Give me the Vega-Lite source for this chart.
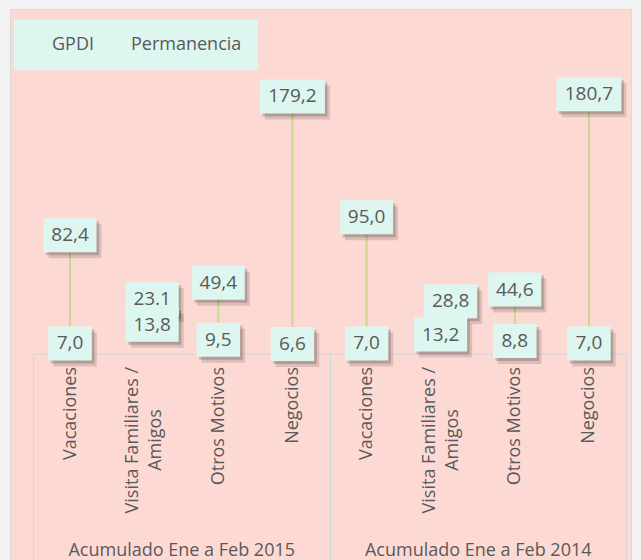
{
  "$schema": "https://vega.github.io/schema/vega-lite/v6.json",
  "width": 621,
  "height": 551,
  "autosize": {"type": "none"},
  "padding": {"left": 10, "top": 9, "right": 10, "bottom": 0},
  "background": "#F2F2F2",
  "config": {
    "view": {"fill": "#FDD9D4", "stroke": "#D9D9D9", "strokeWidth": 1},
    "font": "Open Sans",
    "axis": {"labelFont": "Open Sans", "labelColor": "#595959", "grid": false},
    "legend": {
      "orient": "none",
      "legendX": 4,
      "legendY": 11,
      "direction": "horizontal",
      "fillColor": "#DEF6F0",
      "padding": 16,
      "labelFont": "Open Sans",
      "labelFontSize": 18,
      "labelColor": "#595959",
      "symbolSize": 100,
      "symbolOpacity": 0,
      "symbolType": "square",
      "labelOffset": 4,
      "columnPadding": 14,
      "title": null
    }
  },
  "data": {
    "values": [
      {"grupo": "Acumulado Ene a Feb 2015", "motivo": "Vacaciones", "clave": "Vacaciones 2015", "serie": "GPDI", "valor": 82.4, "etiqueta": "82,4"},
      {"grupo": "Acumulado Ene a Feb 2015", "motivo": "Vacaciones", "clave": "Vacaciones 2015", "serie": "Permanencia", "valor": 7.0, "etiqueta": "7,0"},
      {"grupo": "Acumulado Ene a Feb 2015", "motivo": "Visita Familiares / Amigos", "clave": "Visita Familiares / Amigos 2015", "serie": "GPDI", "valor": 23.1, "etiqueta": "23.1"},
      {"grupo": "Acumulado Ene a Feb 2015", "motivo": "Visita Familiares / Amigos", "clave": "Visita Familiares / Amigos 2015", "serie": "Permanencia", "valor": 13.8, "etiqueta": "13,8"},
      {"grupo": "Acumulado Ene a Feb 2015", "motivo": "Otros Motivos", "clave": "Otros Motivos 2015", "serie": "GPDI", "valor": 49.4, "etiqueta": "49,4"},
      {"grupo": "Acumulado Ene a Feb 2015", "motivo": "Otros Motivos", "clave": "Otros Motivos 2015", "serie": "Permanencia", "valor": 9.5, "etiqueta": "9,5"},
      {"grupo": "Acumulado Ene a Feb 2015", "motivo": "Negocios", "clave": "Negocios 2015", "serie": "GPDI", "valor": 179.2, "etiqueta": "179,2"},
      {"grupo": "Acumulado Ene a Feb 2015", "motivo": "Negocios", "clave": "Negocios 2015", "serie": "Permanencia", "valor": 6.6, "etiqueta": "6,6"},
      {"grupo": "Acumulado Ene a Feb 2014", "motivo": "Vacaciones", "clave": "Vacaciones 2014", "serie": "GPDI", "valor": 95.0, "etiqueta": "95,0"},
      {"grupo": "Acumulado Ene a Feb 2014", "motivo": "Vacaciones", "clave": "Vacaciones 2014", "serie": "Permanencia", "valor": 7.0, "etiqueta": "7,0"},
      {"grupo": "Acumulado Ene a Feb 2014", "motivo": "Visita Familiares / Amigos", "clave": "Visita Familiares / Amigos 2014", "serie": "GPDI", "valor": 28.8, "etiqueta": "28,8"},
      {"grupo": "Acumulado Ene a Feb 2014", "motivo": "Visita Familiares / Amigos", "clave": "Visita Familiares / Amigos 2014", "serie": "Permanencia", "valor": 13.2, "etiqueta": "13,2"},
      {"grupo": "Acumulado Ene a Feb 2014", "motivo": "Otros Motivos", "clave": "Otros Motivos 2014", "serie": "GPDI", "valor": 44.6, "etiqueta": "44,6"},
      {"grupo": "Acumulado Ene a Feb 2014", "motivo": "Otros Motivos", "clave": "Otros Motivos 2014", "serie": "Permanencia", "valor": 8.8, "etiqueta": "8,8"},
      {"grupo": "Acumulado Ene a Feb 2014", "motivo": "Negocios", "clave": "Negocios 2014", "serie": "GPDI", "valor": 180.7, "etiqueta": "180,7"},
      {"grupo": "Acumulado Ene a Feb 2014", "motivo": "Negocios", "clave": "Negocios 2014", "serie": "Permanencia", "valor": 7.0, "etiqueta": "7,0"}
    ]
  },
  "layer": [
    {
      "mark": {"type": "rule", "color": "#C8D88E", "strokeWidth": 2},
      "encoding": {
        "x": {
          "field": "grupo",
          "type": "nominal",
          "scale": {"domain": ["Acumulado Ene a Feb 2015", "Acumulado Ene a Feb 2014"], "range": [23, 616], "paddingInner": 0, "paddingOuter": 0},
          "axis": {
            "orient": "bottom",
            "offset": -206.5,
            "domain": true,
            "domainColor": "#CFD8D8",
            "domainWidth": 1,
            "ticks": true,
            "tickBand": "extent",
            "tickSize": 206.5,
            "tickColor": "#CFD8D8",
            "tickWidth": 1,
            "labelAngle": 0,
            "labelPadding": -5,
            "labelBaseline": "alphabetic",
            "labelFontSize": 18,
            "labelLimit": 0,
            "labelOverlap": false,
            "labelBound": false,
            "title": null
          }
        },
        "xOffset": {
          "field": "motivo",
          "type": "nominal",
          "scale": {"domain": ["Vacaciones", "Visita Familiares / Amigos", "Otros Motivos", "Negocios"], "paddingInner": 0, "paddingOuter": 0}
        },
        "y": {
          "aggregate": "min",
          "field": "valor",
          "type": "quantitative",
          "scale": {"domain": [0, 240.17], "range": [344.5, 0], "nice": false, "zero": false},
          "axis": null
        },
        "y2": {"aggregate": "max", "field": "valor"}
      }
    },
    {
      "encoding": {
        "x": {
          "field": "clave",
          "type": "nominal",
          "scale": {
            "domain": ["Vacaciones 2015", "Visita Familiares / Amigos 2015", "Otros Motivos 2015", "Negocios 2015", "Vacaciones 2014", "Visita Familiares / Amigos 2014", "Otros Motivos 2014", "Negocios 2014"],
            "range": [23, 616],
            "paddingInner": 0,
            "paddingOuter": 0
          },
          "axis": {
            "orient": "bottom",
            "offset": -206.5,
            "domain": false,
            "ticks": false,
            "labelAngle": 270,
            "labelPadding": 13,
            "labelFontSize": 18,
            "labelLineHeight": 23,
            "labelLimit": 0,
            "labelOverlap": false,
            "labelBound": false,
            "labelOffset": {"condition": {"test": "indexof(datum.value, 'Visita') == 0", "value": -11.5}, "value": 0},
            "title": null,
            "labelExpr": "indexof(datum.value, 'Visita') == 0 ? ['Visita Familiares /', 'Amigos\u00a0\u00a0\u00a0\u00a0\u00a0\u00a0\u00a0\u00a0\u00a0\u200b'] : slice(datum.value, 0, -5)"
          }
        },
        "y": {"field": "valor", "type": "quantitative"}
      },
      "layer": [
        {
          "mark": {
            "type": "point", "filled": true, "size": 4, "color": "#000000", "opacity": 0.13, "strokeWidth": 0,
            "xOffset": {"expr": "5 + (datum.clave == 'Visita Familiares / Amigos 2015' ? 8 : datum.etiqueta == '28,8' ? 10 : 0)"},
            "yOffset": {"expr": "6 + (datum.etiqueta == '23.1' ? -21 : datum.etiqueta == '13,8' ? -9 : datum.etiqueta == '28,8' ? -11 : 0)"}
          },
          "encoding": {
            "shape": {
              "condition": [
                {"test": "length(datum.etiqueta) >= 5", "value": "M-32.5,-17H32.5V17H-32.5Z"},
                {"test": "length(datum.etiqueta) == 4", "value": "M-26.5,-17H26.5V17H-26.5Z"}
              ],
              "value": "M-21.75,-17H21.75V17H-21.75Z"
            }
          }
        },
        {
          "mark": {
            "type": "point", "filled": true, "size": 4, "color": "#000000", "opacity": 0.18, "strokeWidth": 0,
            "xOffset": {"expr": "2.5 + (datum.clave == 'Visita Familiares / Amigos 2015' ? 8 : datum.etiqueta == '28,8' ? 10 : 0)"},
            "yOffset": {"expr": "3 + (datum.etiqueta == '23.1' ? -21 : datum.etiqueta == '13,8' ? -9 : datum.etiqueta == '28,8' ? -11 : 0)"}
          },
          "encoding": {
            "shape": {
              "condition": [
                {"test": "length(datum.etiqueta) >= 5", "value": "M-32.5,-17H32.5V17H-32.5Z"},
                {"test": "length(datum.etiqueta) == 4", "value": "M-26.5,-17H26.5V17H-26.5Z"}
              ],
              "value": "M-21.75,-17H21.75V17H-21.75Z"
            }
          }
        },
        {
          "mark": {
            "type": "point", "filled": true, "size": 4, "opacity": 1, "strokeWidth": 0,
            "xOffset": {"expr": "datum.clave == 'Visita Familiares / Amigos 2015' ? 8 : datum.etiqueta == '28,8' ? 10 : 0"},
            "yOffset": {"expr": "datum.etiqueta == '23.1' ? -21 : datum.etiqueta == '13,8' ? -9 : datum.etiqueta == '28,8' ? -11 : 0"}
          },
          "encoding": {
            "shape": {
              "condition": [
                {"test": "length(datum.etiqueta) >= 5", "value": "M-32.5,-17H32.5V17H-32.5Z"},
                {"test": "length(datum.etiqueta) == 4", "value": "M-26.5,-17H26.5V17H-26.5Z"}
              ],
              "value": "M-21.75,-17H21.75V17H-21.75Z"
            },
            "fill": {
              "field": "serie",
              "type": "nominal",
              "scale": {"domain": ["GPDI", "Permanencia"], "range": ["#DEF6F0", "#DEF6F0"]},
              "legend": {"title": null}
            }
          }
        },
        {
          "mark": {
            "type": "text", "font": "Open Sans", "fontSize": 19, "color": "#595959", "align": "center", "baseline": "middle",
            "xOffset": {"expr": "datum.clave == 'Visita Familiares / Amigos 2015' ? 8 : datum.etiqueta == '28,8' ? 10 : 0"},
            "yOffset": {"expr": "datum.etiqueta == '23.1' ? -21 : datum.etiqueta == '13,8' ? -9 : datum.etiqueta == '28,8' ? -11 : 0"}
          },
          "encoding": {
            "text": {"field": "etiqueta", "type": "nominal"}
          }
        }
      ]
    }
  ],
  "resolve": {"scale": {"x": "independent"}}
}
